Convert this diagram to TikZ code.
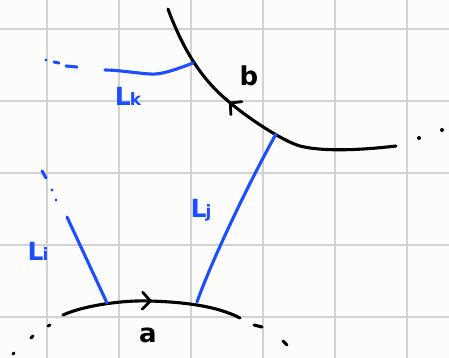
\documentclass[tikz,border=0pt]{standalone}
\usepackage{fontspec}
\setmainfont{DejaVu Sans}
\usetikzlibrary{arrows.meta,decorations.markings}
\definecolor{penblue}{RGB}{28,78,255}
\definecolor{gridgray}{RGB}{210,210,210}
\definecolor{paper}{RGB}{252,252,252}
\tikzset{
  ink/.style={line width=3.1pt, line cap=round, black},
  blueink/.style={line width=3.1pt, line cap=round, penblue},
  gridline/.style={line width=1.4pt, gridgray},
  bluelabel/.style={text=penblue, inner sep=0pt, font=\bfseries\fontsize{25}{25}\selectfont},
  blacklabel/.style={text=black, inner sep=0pt, font=\bfseries\fontsize{26}{26}\selectfont},
  midarrow/.style={decoration={markings, mark=at position #1 with {\arrow{Straight Barb[length=8pt,width=17pt,line width=2.8pt,round]}}}, postaction={decorate}}
}
\newcommand{\sublab}[2]{#1\kern-1pt{\fontsize{17}{17}\selectfont #2}}
\begin{document}
\begin{tikzpicture}[x=1pt,y=-1pt]
\fill[paper] (0,0) rectangle (449,358);
\useasboundingbox (0,0) rectangle (449,358);
% grid
\foreach \gx in {47,119,191,263,335,407} \draw[gridline] (\gx,0) -- (\gx,358);
\foreach \gy in {29,101,173,245,317} \draw[gridline] (0,\gy) -- (449,\gy);

% named points
\coordinate (bstart) at (168,9);
\coordinate (bk) at (193,63);
\coordinate (bj) at (276,134);
\coordinate (bend) at (396,146);
\coordinate (astart) at (63,315);
\coordinate (ai) at (107,303);
\coordinate (aj) at (197,302);
\coordinate (aend) at (240,318);
\coordinate (kend) at (105,70);
\coordinate (iend) at (67,217);

% curve b (drawn right to left so the arrow points up-left)
\draw[ink, midarrow=0.615] (bend) .. controls (345,152) and (315,150) .. (300,146)
  .. controls (285,142) and (250,120) .. (228,101)
  .. controls (205,82) and (185,55) .. (bstart);
% trailing dots of b
\fill (419,138) circle (2pt);
\fill (442,130) circle (2pt);

% curve a
\draw[ink, midarrow=0.5] (astart) .. controls (85,305) and (125,300) .. (150,301)
  .. controls (180,302) and (215,305) .. (aend);
% dashes of a
\draw[ink] (48,326) -- (50,325);
\draw[ink] (31,338) -- (33,336);
\draw[ink] (13,354) -- (14,353);
\draw[ink] (254,325) -- (262,327);
\draw[ink] (283,341) -- (287,345);

% blue lines
\draw[blueink] (bk) .. controls (175,70) and (160,75) .. (150,74)
  .. controls (135,73) and (118,70) .. (kend);
\fill[penblue] (46,60) circle (1.6pt);
\draw[blueink] (54,62) -- (59,63);
\draw[blueink] (66,66) -- (77,67);

\draw[blueink] (ai) -- (iend);
\draw[blueink] (42,171) -- (46,178);
\fill[penblue] (52,190) circle (1.6pt);
\fill[penblue] (56,200) circle (1.6pt);

\draw[blueink] (aj) .. controls (210,265) and (245,190) .. (bj);

% labels
\node[blacklabel] (lb) at (249,76) {b};
\node[blacklabel] (la) at (148,335) {a};
\node[bluelabel] (lk) at (128,96) {\sublab{L}{k}};
\node[bluelabel] (li) at (38,251) {\sublab{L}{i}};
\node[bluelabel] (lj) at (201,210) {\sublab{L}{j}};
\end{tikzpicture}
\end{document}
